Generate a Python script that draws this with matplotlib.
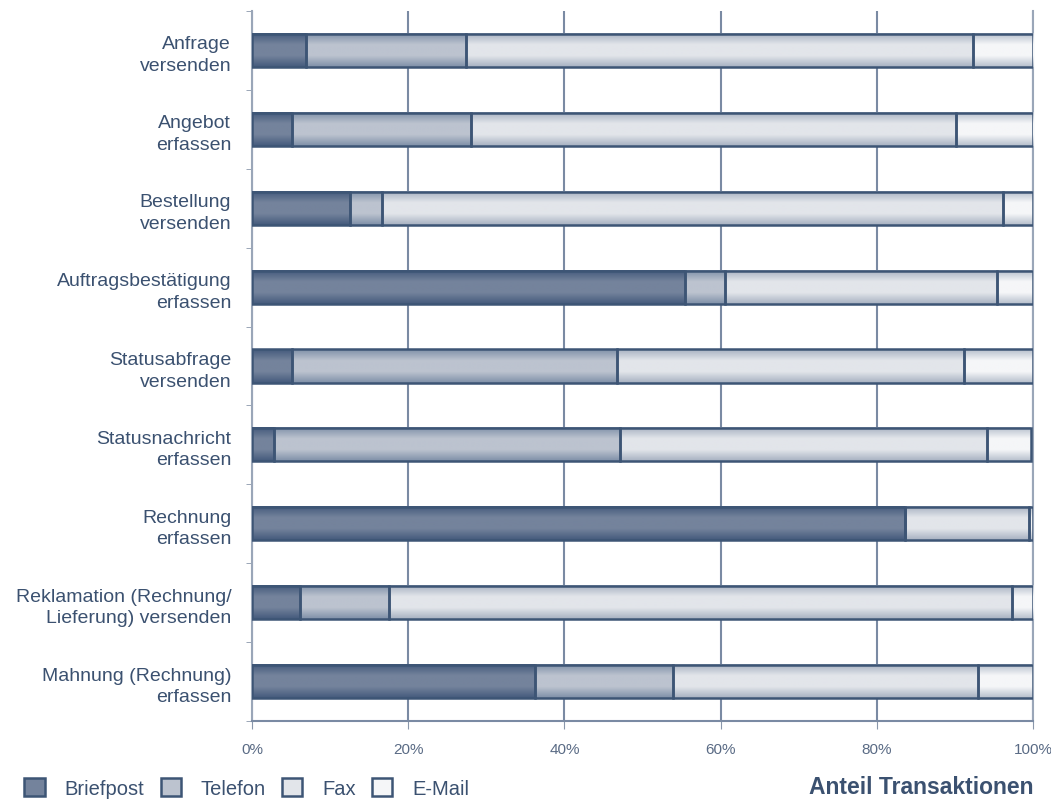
import numpy as np
import matplotlib
matplotlib.use('Agg')
import matplotlib.pyplot as plt
from matplotlib.colors import LinearSegmentedColormap
from matplotlib.patches import Rectangle

# data: share of transactions per channel in %
categories = ['Anfrage\nversenden', 'Angebot\nerfassen', 'Bestellung\nversenden',
              'Auftragsbestätigung\nerfassen', 'Statusabfrage\nversenden',
              'Statusnachricht\nerfassen', 'Rechnung\nerfassen',
              'Reklamation (Rechnung/\nLieferung) versenden', 'Mahnung (Rechnung)\nerfassen']
series = ['Briefpost', 'Telefon', 'Fax', 'E-Mail']
briefpost = [6.9, 5.1, 12.5, 55.4, 5.1, 2.8, 83.6, 6.1, 36.2]
telefon = [20.5, 22.9, 4.1, 5.2, 41.6, 44.3, 0.0, 11.4, 17.7]
fax = [64.9, 62.1, 79.6, 34.8, 44.5, 47.0, 15.9, 79.8, 39.1]
email = [7.7, 9.9, 3.8, 4.6, 8.8, 5.6, 0.5, 2.7, 7.0]
xticks = [0, 20, 40, 60, 80, 100]

txt = '#3b5170'
edge = '#3d5575'
mid_cols = ['#74839c', '#bcc3cf', '#e2e5ea', '#f5f6f8']
rim_cols = ['#445a7c', '#7f90a8', '#a7b1c1', '#b6bfcc']

plt.rcParams['font.family'] = ['Liberation Sans', 'DejaVu Sans']

fig = plt.figure(figsize=(10.51, 8.03), dpi=100)
ax = fig.add_axes([0.2398, 0.1009, 0.7431, 0.8841])

n = len(categories)
y = np.arange(n)
h = 0.42
data = [briefpost, telefon, fax, email]

left = np.zeros(n)
for k in range(4):
    vals = np.array(data[k])
    cmap = LinearSegmentedColormap.from_list('g%d' % k,
        [rim_cols[k], mid_cols[k], mid_cols[k], rim_cols[k]])
    grad = np.linspace(0, 1, 64).reshape(-1, 1)
    for i in range(n):
        if vals[i] <= 0:
            continue
        ax.imshow(grad, cmap=cmap, aspect='auto', interpolation='bilinear',
                  extent=[left[i], left[i] + vals[i], y[i] + h / 2, y[i] - h / 2],
                  zorder=3)
    ax.barh(y, vals, height=h, left=left, facecolor='none', edgecolor=edge,
            linewidth=1.8, zorder=4)
    left += vals

ax.set_xlim(0, 100)
ax.set_ylim(n - 0.5, -0.5)
ax.set_xticks(xticks)
ax.set_xticklabels(['%d%%' % t for t in xticks], color='#5a6b85', fontsize=11)
ax.set_yticks(y)
ax.set_yticklabels(categories, color=txt, fontsize=14, ha='right', linespacing=1.35)
ax.set_yticks(np.arange(n + 1) - 0.5, minor=True)
ax.tick_params(axis='y', which='major', length=0, pad=15)
ax.tick_params(axis='y', which='minor', length=4, color='#8a97ab')
ax.tick_params(axis='x', length=6, color='#8a97ab', pad=9)

ax.grid(axis='x', color='#7a8aa3', linewidth=1.5, zorder=0)
ax.set_axisbelow(True)
ax.spines['top'].set_visible(False)
ax.spines['right'].set_color('#9aa6b8')
ax.spines['left'].set_color('#9aa6b8')
ax.spines['bottom'].set_color('#7a8aa3')
for s in ['left', 'right', 'bottom']:
    ax.spines[s].set_linewidth(1.5)

handles = [Rectangle((0, 0), 1, 1, facecolor=mid_cols[k], edgecolor=edge, linewidth=1.8)
           for k in range(4)]
fig.legend(handles, series, loc='lower left', bbox_to_anchor=(0.006, -0.018), ncol=4,
           frameon=False, fontsize=14.5, labelcolor=txt, handlelength=1.0,
           handleheight=1.0, handletextpad=1.0, columnspacing=0.8)

fig.text(0.983, 0.005, 'Anteil Transaktionen', ha='right', va='bottom',
         fontsize=16.5, fontweight='bold', color=txt)

plt.savefig('out.png', dpi=100)
